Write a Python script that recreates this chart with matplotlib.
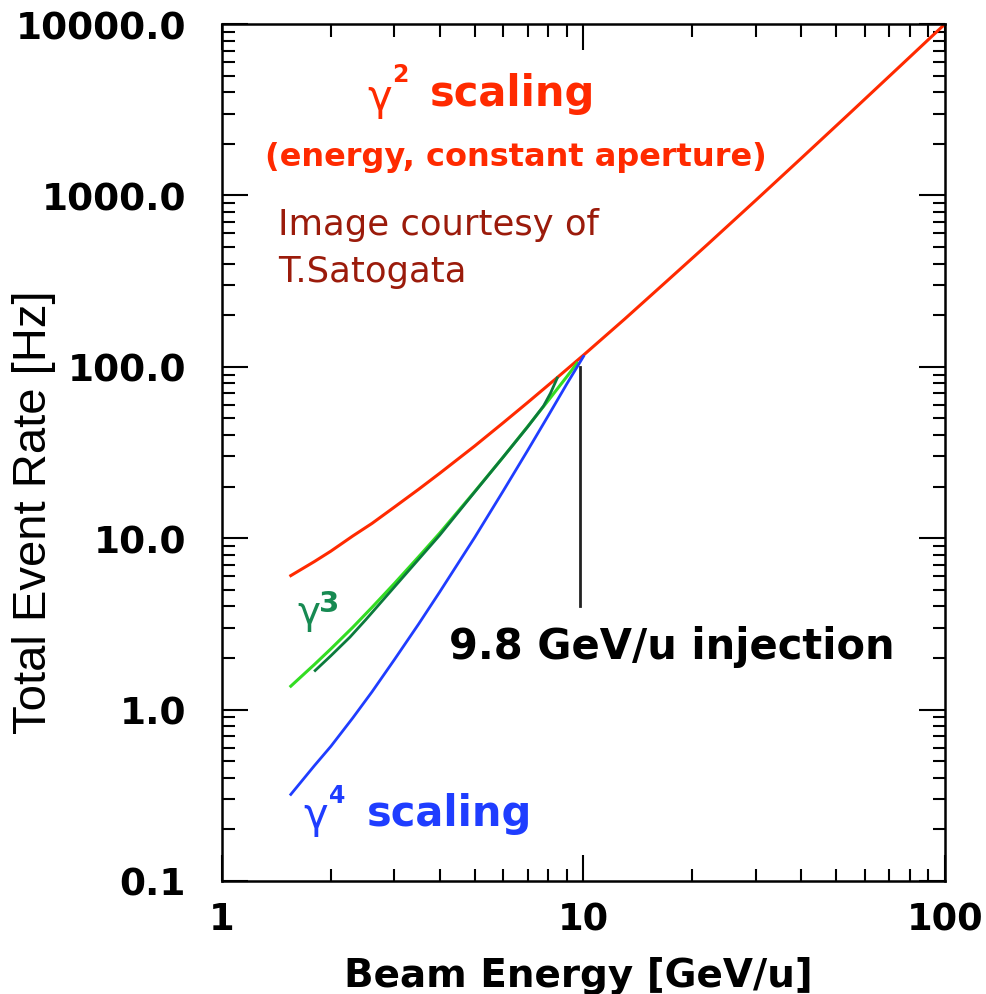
import matplotlib
matplotlib.use("Agg")
import matplotlib.pyplot as plt
from matplotlib import font_manager
from matplotlib.ticker import FixedLocator, FixedFormatter, LogLocator, NullFormatter

# gamma^2 scaling (energy, constant aperture)
energy_g2 = [1.55, 1.8, 2, 2.3, 2.6, 3, 3.5, 4, 5, 6, 7, 8.5, 10, 13, 17, 22, 30, 40, 55, 75, 100]
rate_g2 = [6.05, 7.3, 8.4, 10.3, 12.2, 15.2, 19.3, 23.9, 34.5, 47.2, 61.8, 87.3, 117, 190, 316, 516, 939, 1645, 3070, 5660, 10000]

# gamma^3 (light green) and the hand drawn dark green one
energy_g3 = [1.55, 1.8, 2, 2.3, 2.6, 3, 3.5, 4, 5, 6, 7, 8, 9, 9.6]
rate_g3 = [1.37, 1.83, 2.26, 3.02, 3.95, 5.45, 7.8, 10.7, 18.7, 29.8, 44.7, 63.8, 87.8, 105]
energy_g3b = [1.81, 2, 2.26, 2.5, 3, 4, 5, 6, 7, 7.75, 8.1, 8.46]
rate_g3b = [1.69, 2.06, 2.65, 3.35, 5.2, 10.4, 18.6, 29.8, 44.5, 59, 70, 86]

# gamma^4 scaling
energy_g4 = [1.55, 1.8, 2, 2.3, 2.6, 3, 3.5, 4, 5, 6, 7, 8, 9, 10]
rate_g4 = [0.32, 0.47, 0.61, 0.894, 1.27, 1.96, 3.16, 4.85, 10.1, 18.9, 32.4, 52.1, 79.7, 115]

# injection marker
inj_energy = 9.8
inj_rate = [4, 100]

xticks = [1, 10, 100]
xtick_labels = ['1', '10', '100']
yticks = [0.1, 1, 10, 100, 1000, 10000]
ytick_labels = ['0.1', '1.0', '10.0', '100.0', '1000.0', '10000.0']

W, H = 987, 995
fig = plt.figure(figsize=(W / 100, H / 100), dpi=100)
ax = fig.add_axes([222 / W, 1 - 882 / H, (945 - 222) / W, (882 - 25) / H])

red = '#ff2a00'
blue = '#1f3dff'

ax.plot(energy_g2, rate_g2, color=red, lw=2.2)
ax.plot(energy_g3, rate_g3, color='#33dd22', lw=2.2)
ax.plot(energy_g3b, rate_g3b, color='#0b7a3c', lw=2.0)
ax.plot(energy_g4, rate_g4, color=blue, lw=2.0)
ax.plot([inj_energy, inj_energy], inj_rate, color='#222222', lw=2.0)

ax.set_xscale('log')
ax.set_yscale('log')
ax.set_xlim(1, 100)
ax.set_ylim(0.1, 10000)

ax.xaxis.set_major_locator(FixedLocator(xticks))
ax.xaxis.set_major_formatter(FixedFormatter(xtick_labels))
ax.yaxis.set_major_locator(FixedLocator(yticks))
ax.yaxis.set_major_formatter(FixedFormatter(ytick_labels))
ax.xaxis.set_minor_locator(LogLocator(base=10, subs=range(2, 10)))
ax.yaxis.set_minor_locator(LogLocator(base=10, subs=range(2, 10)))
ax.xaxis.set_minor_formatter(NullFormatter())
ax.yaxis.set_minor_formatter(NullFormatter())

ax.tick_params(which='both', direction='in', top=True, right=True, width=1.5, color='black')
ax.tick_params(which='major', length=19)
ax.tick_params(which='minor', length=9)
ax.tick_params(axis='x', which='major', pad=14)
ax.tick_params(axis='y', which='major', pad=26)
for lab in ax.get_xticklabels():
    lab.set_fontfamily('DejaVu Sans')
    lab.set_fontweight('bold')
    lab.set_fontsize(26.5)
for lab in ax.get_yticklabels():
    lab.set_fontfamily('DejaVu Sans')
    lab.set_fontweight('bold')
    lab.set_fontsize(27)
for sp in ax.spines.values():
    sp.set_linewidth(1.8)


def px(x, y):
    return x / W, 1 - y / H


names = {f.name for f in font_manager.fontManager.ttflist}
if 'Liberation Sans Narrow' in names:
    yl_family, yl_size = 'Liberation Sans Narrow', 41
else:
    yl_family, yl_size = 'Liberation Sans', 34

fig.text(*px(34, 512), 'Total Event Rate [Hz]', rotation=90, ha='center', va='center',
         family=yl_family, fontsize=yl_size)
fig.text(*px(578, 987), 'Beam Energy [GeV/u]', ha='center', va='baseline',
         family='DejaVu Sans', fontweight='bold', fontsize=28)

# red labels
fig.text(*px(367, 110), 'γ', color=red, family='DejaVu Sans', fontsize=30, va='baseline')
fig.text(*px(392, 82), '2', color=red, family='DejaVu Sans', fontweight='bold', fontsize=17, va='baseline')
fig.text(*px(430, 106), 'scaling', color=red, family='DejaVu Sans', fontweight='bold', fontsize=30, va='baseline')
fig.text(*px(516, 166), '(energy, constant aperture)', color=red, family='DejaVu Sans',
         fontweight='bold', fontsize=23, ha='center', va='baseline')

fig.text(*px(278, 235), 'Image courtesy of', color='#9b1b0b', family='DejaVu Sans', fontsize=25.5, va='baseline')
fig.text(*px(278, 282), 'T.Satogata', color='#9b1b0b', family='DejaVu Sans', fontsize=25.5, va='baseline')

# gamma^3 label
g3c = '#178a52'
fig.text(*px(297, 624), 'γ', color=g3c, family='DejaVu Sans', fontsize=28, va='baseline')
fig.text(*px(319, 612), '3', color=g3c, family='DejaVu Sans', fontweight='bold', fontsize=21, va='baseline')

fig.text(*px(449, 659), '9.8 GeV/u injection', color='black', family='DejaVu Sans',
         fontweight='bold', fontsize=30, va='baseline')

# blue labels
fig.text(*px(303, 828), 'γ', color=blue, family='DejaVu Sans', fontsize=30, va='baseline')
fig.text(*px(329, 803), '4', color=blue, family='DejaVu Sans', fontweight='bold', fontsize=17, va='baseline')
fig.text(*px(367, 826), 'scaling', color=blue, family='DejaVu Sans', fontweight='bold', fontsize=30, va='baseline')

fig.savefig('out.png', dpi=100)
